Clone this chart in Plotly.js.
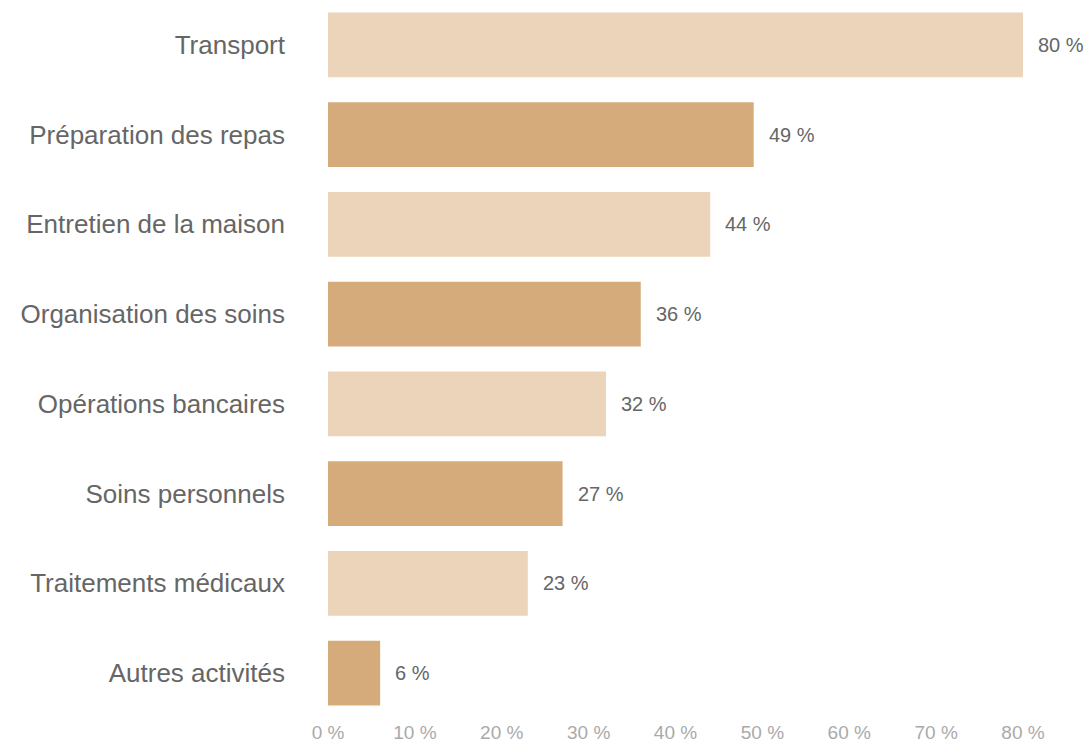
<!DOCTYPE html>
<html>
<head>
<meta charset="utf-8">
<script src="https://cdn.plot.ly/plotly-3.0.1.min.js"></script>
<style>html,body{margin:0;padding:0;background:#fff}#chart{width:1084px;height:744px}</style>
</head>
<body>
<div id="chart"></div>
<script>
const categories = ["Transport","Préparation des repas","Entretien de la maison","Organisation des soins","Opérations bancaires","Soins personnels","Traitements médicaux","Autres activités"];
const values = [80,49,44,36,32,27,23,6];
const barColors = ["#EBD4BA","#D6AB7B","#EBD4BA","#D6AB7B","#EBD4BA","#D6AB7B","#EBD4BA","#D6AB7B"];
const tickVals = [0,10,20,30,40,50,60,70,80];
const tickText = tickVals.map(v => v + " %");

const font = "'Helvetica Neue', Helvetica, 'Liberation Sans', Arial, sans-serif";

const trace = {
  type: "bar",
  orientation: "h",
  y: categories,
  x: values,
  marker: {color: barColors},
  hoverinfo: "none"
};

const annotations = categories.map((c, i) => ({
  x: values[i], y: c, xref: "x", yref: "y",
  text: values[i] + " %", showarrow: false,
  xanchor: "left", xshift: 13,
  font: {family: font, size: 20, color: "#666666"}
}));

const layout = {
  width: 1084, height: 744,
  margin: {l: 328, r: 61, t: 0, b: 26},
  paper_bgcolor: "#fff", plot_bgcolor: "#fff",
  bargap: 0.28,
  showlegend: false,
  xaxis: {
    range: [0, 80], tickvals: tickVals, ticktext: tickText,
    showgrid: false, zeroline: false, showline: false,
    tickfont: {family: font, size: 19, color: "#aaaaaa"},
    ticklabelstandoff: 1, fixedrange: true
  },
  yaxis: {
    autorange: "reversed", showgrid: false, zeroline: false, showline: false,
    tickfont: {family: font, size: 26, color: "#666666"},
    ticklabelstandoff: 42, fixedrange: true
  },
  annotations: annotations
};

Plotly.newPlot("chart", [trace], layout, {displayModeBar: false, staticPlot: true});
</script>
</body>
</html>
